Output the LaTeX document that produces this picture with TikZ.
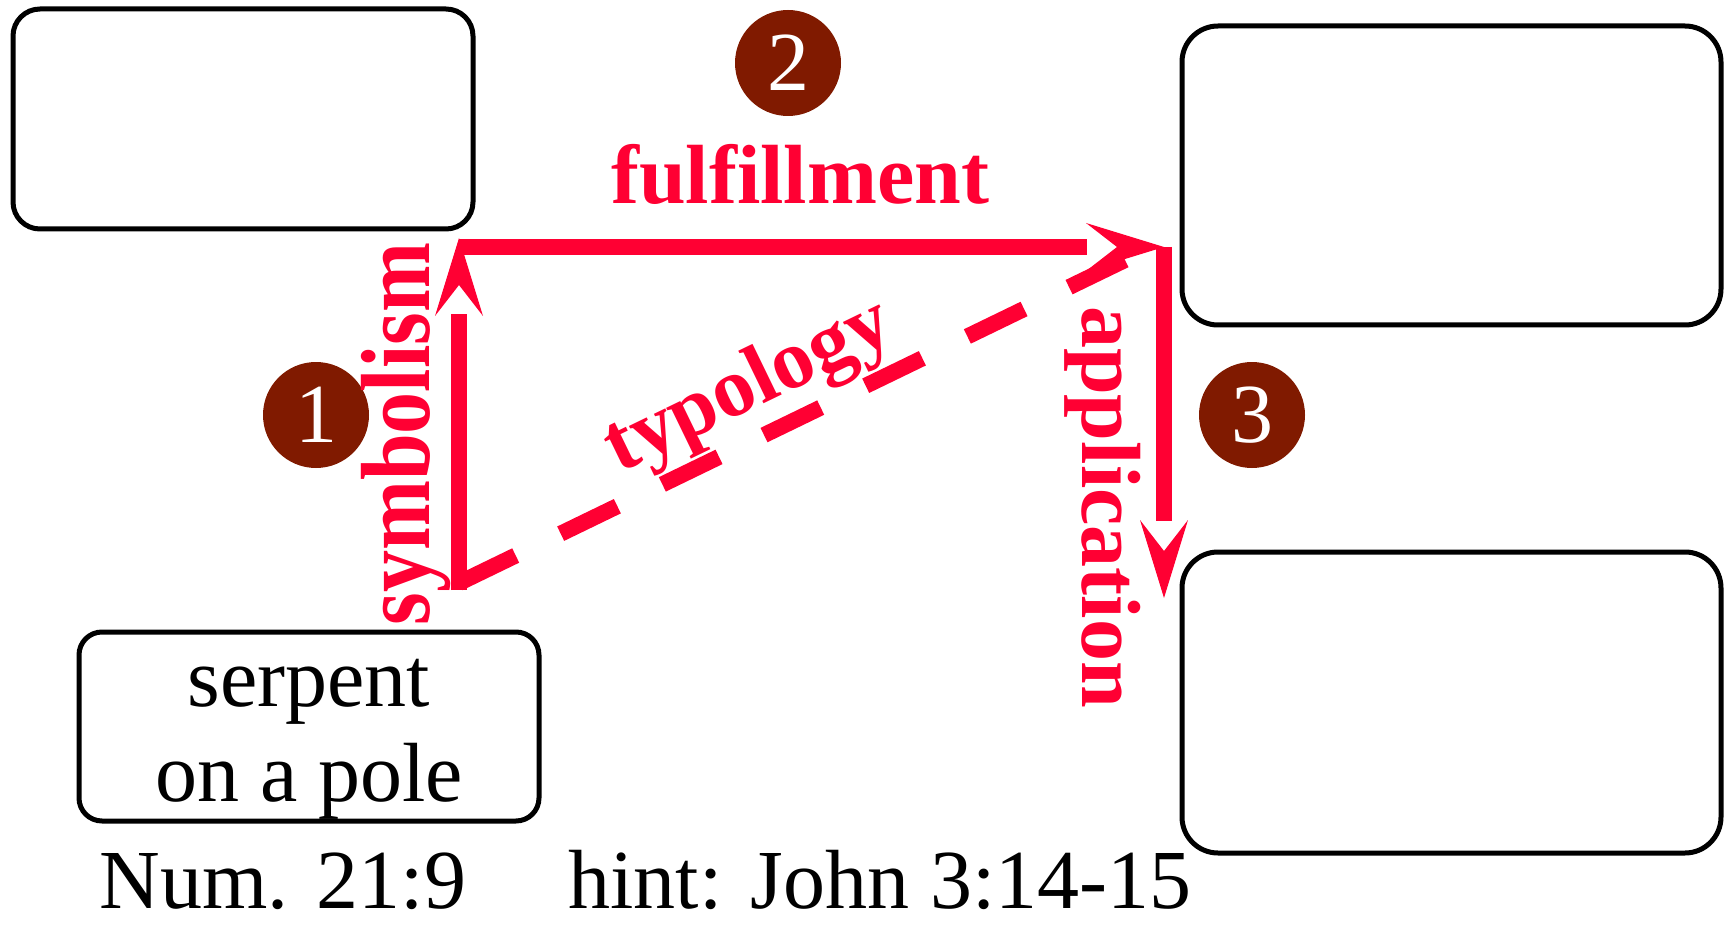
\documentclass[tikz,border=0pt]{standalone}
\usepackage{fontspec}
\setmainfont{Liberation Serif}
\usepackage{tikz}
\usetikzlibrary{calc}
\definecolor{typered}{RGB}{255,0,51}
\definecolor{stepbrown}{RGB}{128,26,0}
\newcommand{\diagfont}{\fontsize{23.9pt}{27pt}\selectfont}
\tikzset{
  % Common styles for the diagram
  card/.style={draw, line width=0.5mm, rounded corners=#1, inner sep=0pt},
  shaft/.style={draw=typered, line width=1.6mm},
  badge/.style={circle, fill=stepbrown, minimum size=10.6mm, inner sep=0pt, text=white, font=\diagfont},
  headtip/.pic={\fill[typered] (0,0) -- (-78,24) -- (-47,0) -- (-78,-24) -- cycle;}
}

\begin{document}
\begin{tikzpicture}[x=0.1mm, y=-0.1mm]
    % Define styles
    \tikzstyle{rlabel} = [text=typered, font=\diagfont\bfseries, inner sep=0pt]
    \tikzstyle{plain} = [font=\diagfont, inner sep=0pt]
    \useasboundingbox (0,0) rectangle (1730,929);

    % Place nodes
    \node [card=2.7mm, minimum width=46mm, minimum height=22mm] (antitype) at (243,119) {};
    \node [card=3.6mm, minimum width=53.9mm, minimum height=29.9mm] (lesson) at (1451.5,175.5) {};
    \node [card=3.6mm, minimum width=53.9mm, minimum height=30.1mm] (response) at (1451.5,702.5) {};
    \node [card=2.3mm, minimum width=46mm, minimum height=18.9mm] (serpent) at (309,726.5) {};
    \node [plain, anchor=north, align=center] (serpenttext) at (309,659) {serpent\\on a pole};
    \node [plain, anchor=base] (numref) at (283,908) {Num. 21:9};
    \node [plain, anchor=base] (hint) at (880,908) {hint: John 3:14-15};

    \node [badge] (one) at (316,415) {1};
    \node [badge] (two) at (788,63) {2};
    \node [badge] (three) at (1252,415) {3};

    \node [rlabel, anchor=base] (fulfil) at (800,204) {fulfillment};
    \node [rlabel, anchor=base, rotate=90, yscale=1.17] (symbol) at (429,434) {symbolism};
    \node [rlabel, anchor=base, rotate=-90] (apply) at (1082,507) {application};

    % Corner points of the arrows
    \coordinate (corner-bl) at (459,590);
    \coordinate (symb-tip) at (459,238);
    \coordinate (corner-tl) at (459,247);
    \coordinate (corner-tr) at (1164,247);
    \coordinate (app-tip) at (1164,598);
    \coordinate (typ-start) at (459,583);
    \coordinate (typ-end) at (1125,260);

    % Draw edges
    \draw [shaft, shorten >=7.6mm] (corner-bl) -- (symb-tip);
    \pic [rotate=90] at (symb-tip) {headtip};
    \draw [shaft, shorten >=7.7mm] (corner-tl) -- (corner-tr);
    \pic at (corner-tr) {headtip};
    \draw [shaft, shorten >=7.7mm] (corner-tr) -- (app-tip);
    \pic [rotate=-90] at (app-tip) {headtip};
    \draw [shaft, dash pattern=on 6.3mm off 5mm] (typ-start) -- node [rlabel, sloped, pos=0.468, above=0.15mm] (typ) {typology} (typ-end);
\end{tikzpicture}
\end{document}
